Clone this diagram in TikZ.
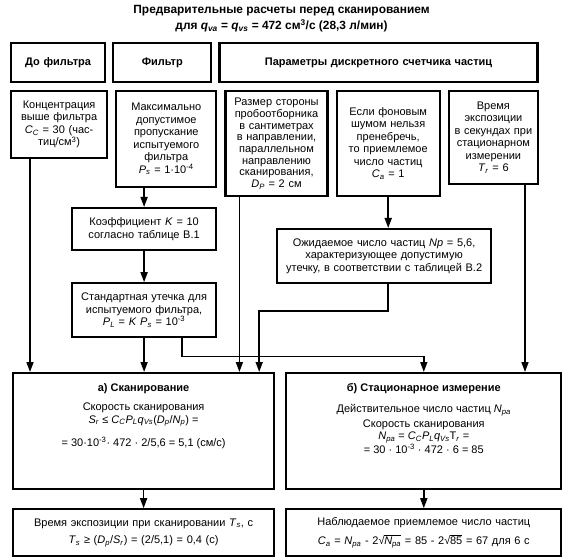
\documentclass[tikz,border=0pt]{standalone}
\usepackage{fontspec}
\setmainfont{Liberation Sans}
\usetikzlibrary{positioning, arrows.meta, calc}

\newcommand{\iv}[2]{\textit{#1}\textsubscript{\textit{#2}}}
\newcommand{\cell}[3]{\parbox[t][#2][t]{#1}{\centering #3}}
\newcommand{\rootof}[1]{√\kern-0.3pt\vbox{\hrule height 0.6pt\kern 0.9pt\hbox{#1}}}

\begin{document}
\begin{tikzpicture}[x=1pt,y=1pt,
                    font=\fontsize{11}{12.5}\selectfont,
                    cell/.style={draw,line width=2.2pt,align=center,inner xsep=3pt,inner ysep=2pt,anchor=north west},
                    head/.style={cell,minimum height=39pt,font=\fontsize{11}{12.5}\selectfont\bfseries},
                    link/.style={line width=1.6pt},
                    arr/.style={link,-{Triangle[length=10pt,width=7pt]}}]

  \useasboundingbox (0,0) rectangle (563,-559);

  \node[align=center,font=\fontsize{11.9}{16}\selectfont\bfseries] (title) at (281.5,-19)
    {Предварительные расчеты перед сканированием\\для \iv{q}{va} = \iv{q}{vs} = 472 см\textsuperscript{3}/с (28,3 л/мин)};

  % headers
  \node[head,text width=88pt] (before) at (10,-42) {До фильтра};
  \node[head,text width=92pt] (filter) [right=6pt of before] {Фильтр};
  \node[head,text width=312pt] (counter) [right=6pt of filter] {Параметры дискретного счетчика частиц};

  % input data
  \node[cell,text width=90pt,minimum height=67pt] (conc) at (10,-90)
    {Концентрация\\выше фильтра\\\iv{C}{C} = 30 (час-\\тиц/см\textsuperscript{3})};
  \node[cell,text width=94pt,minimum height=96pt] (pass) [right=7pt of conc.north east,anchor=north west]
    {Максимально\\допустимое\\пропускание\\испытуемого\\фильтра\\\iv{P}{s} = 1·10\textsuperscript{-4}};
  \node[cell,text width=96pt,minimum height=105pt,font=\fontsize{11}{11.7}\selectfont] (probe) [right=7pt of pass.north east,anchor=north west]
    {Размер стороны\\пробоотборника\\в сантиметрах\\в направлении,\\параллельном\\направлению\\сканирования,\\\iv{D}{P} = 2 см};
  \node[cell,text width=97pt,minimum height=105pt] (noise) [right=7pt of probe.north east,anchor=north west]
    {Если фоновым\\шумом нельзя\\пренебречь,\\то приемлемое\\число частиц\\\iv{C}{a} = 1};
  \node[cell,text width=83pt,minimum height=93pt] (time) [right=7pt of noise.north east,anchor=north west]
    {Время\\экспозиции\\в секундах при\\стационарном\\измерении\\\iv{T}{r} = 6};

  % intermediate steps
  \node[cell,text width=138pt,minimum height=42pt] (K) at (71,-207)
    {Коэффициент \textit{K} = 10\\согласно таблице В.1};
  \node[cell,text width=138pt,minimum height=54pt] (PL) [below=31pt of K.south west,anchor=north west]
    {Стандартная утечка для\\испытуемого фильтра,\\\iv{P}{L} = \textit{K} \iv{P}{s} = 10\textsuperscript{-3}};
  \node[cell,text width=208pt,minimum height=54pt] (Np) at (276,-228)
    {Ожидаемое число частиц \textit{Np} = 5,6,\\характеризующее допустимую\\утечку, в соответствии с таблицей В.2};

  % results
  \node[cell,inner ysep=10pt] (scan) at (12,-372)
    {\cell{255pt}{96pt}{\textbf{а) Сканирование}\\[7pt]Скорость сканирования\\\iv{S}{r} ≤ \iv{C}{C}\iv{P}{L}\iv{q}{Vs}(\iv{D}{p}/\iv{N}{p}) =\\[10pt]= 30·10\textsuperscript{-3}· 472 · 2/5,6 = 5,1 (см/с)}};
  \node[cell,inner ysep=10pt] (stat) [right=10pt of scan.north east,anchor=north west]
    {\cell{269pt}{96pt}{\textbf{б) Стационарное измерение}\\[9pt]Действительное число частиц \iv{N}{pa}\\[2pt]Скорость сканирования\\\iv{N}{pa} = \iv{C}{C}\iv{P}{L}\iv{q}{Vs}T\textsubscript{\textit{r}} =\\= 30 · 10\textsuperscript{-3} · 472 · 6 = 85}};
  \node[cell,text width=255pt,minimum height=47pt] (Ts) [below=18pt of scan.south west,anchor=north west]
    {Время экспозиции при сканировании \iv{T}{s}, с\\[5pt]\iv{T}{s} ≥ (\iv{D}{p}/\iv{S}{r}) = (2/5,1) = 0,4 (с)};
  \node[cell,text width=269pt,minimum height=47pt] (Ca) [below=18pt of stat.south west,anchor=north west]
    {Наблюдаемое приемлемое число частиц\\[6pt]\iv{C}{a} = \iv{N}{pa} - 2\rootof{\iv{N}{pa}} = 85 - 2\rootof{85} = 67 для 6 с};

  % connectors
  \coordinate (c1) at ([xshift=20pt]conc.south west);
  \coordinate (c2) at ([xshift=-35pt]PL.south east);
  \coordinate (c3) at ([xshift=15pt]probe.south west);
  \coordinate (c4) at ([xshift=-16pt]scan.north east);
  \coordinate (c5) at ([xshift=-14pt]time.south east);

  \draw[arr] (c1) -- (c1 |- scan.north);
  \draw[arr] (pass.south -| K.north) -- (K.north);
  \draw[arr] (K.south) -- (PL.north);
  \draw[arr] (PL.south) -- (PL.south |- scan.north);
  \draw[arr] (c2) -- ++(0,-18) -| (stat.north);
  \draw[arr] (c3) -- (c3 |- scan.north);
  \draw[arr] (noise.south) -- (noise.south |- Np.north);
  \draw[arr] (noise.south |- Np.south) -- ++(0,-27) -| (c4);
  \draw[arr] (c5) -- (c5 |- stat.north);
  \draw[arr] (scan.south) -- (Ts.north);
  \draw[arr] (stat.south) -- (Ca.north);

\end{tikzpicture}
\end{document}
